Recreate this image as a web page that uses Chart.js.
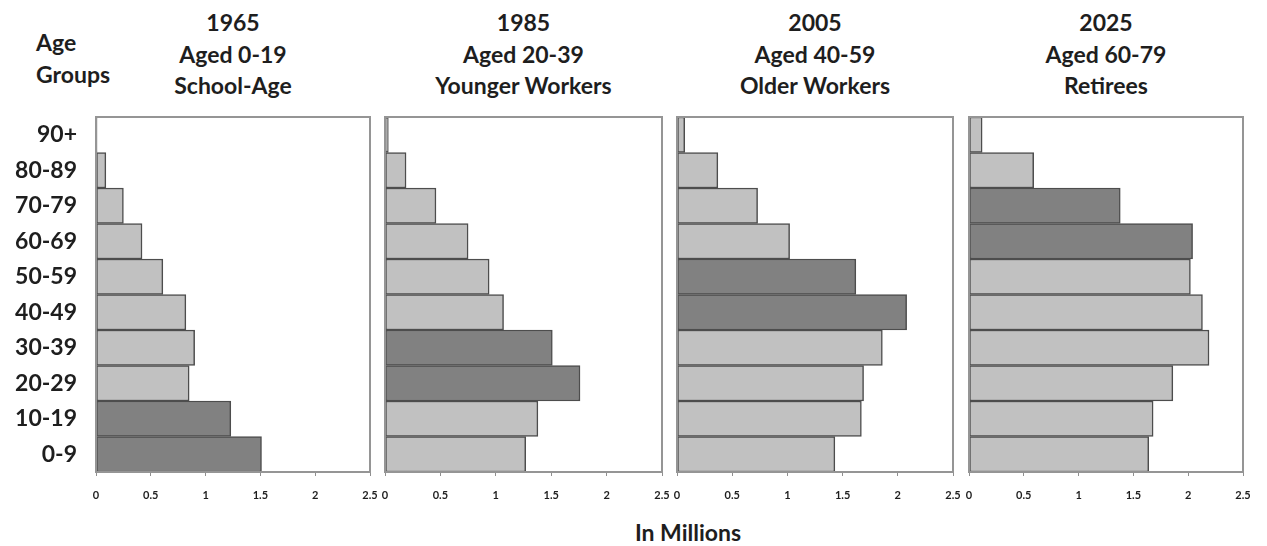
<!DOCTYPE html>
<html>
<head>
<meta charset="utf-8">
<script src="https://cdn.jsdelivr.net/npm/chart.js@4.4.1/dist/chart.umd.min.js"></script>
<style>
    body { margin: 0; background: #fff; width: 1267px; height: 546px; position: relative; overflow: hidden; font-family: Lato, sans-serif; color: #1e1e1e; }
    .panel { position: absolute; top: 100px; height: 412px; }
    .title { position: absolute; top: 7px; width: 290px; text-align: center; font-weight: bold; font-size: 23px; line-height: 31.5px; }
    .side { position: absolute; left: 36px; top: 27px; font-weight: bold; font-size: 23px; line-height: 31.5px; }
    .axis-title { position: absolute; left: 0; width: 1376px; top: 517px; text-align: center; font-weight: bold; font-size: 23px; line-height: 31.5px; }
</style>
</head>
<body>
<div class="side">Age<br>Groups</div>
<div id="titles"></div>
<div id="panels"></div>
<div class="axis-title">In Millions</div>

<script>
// ===== Данные =====
const ageGroups = ['0-9', '10-19', '20-29', '30-39', '40-49', '50-59', '60-69', '70-79', '80-89', '90+'];

const pop1965 = [1.51, 1.23, 0.85, 0.90, 0.82, 0.61, 0.42, 0.25, 0.09, 0.01];
const pop1985 = [1.27, 1.38, 1.76, 1.51, 1.07, 0.94, 0.75, 0.46, 0.19, 0.03];
const pop2005 = [1.43, 1.67, 1.69, 1.86, 2.08, 1.62, 1.02, 0.73, 0.37, 0.07];
const pop2025 = [1.64, 1.68, 1.86, 2.19, 2.13, 2.02, 2.04, 1.38, 0.59, 0.12];

const panelTitles = [
    ['1965', 'Aged 0-19', 'School-Age'],
    ['1985', 'Aged 20-39', 'Younger Workers'],
    ['2005', 'Aged 40-59', 'Older Workers'],
    ['2025', 'Aged 60-79', 'Retirees']
];

// возрастные группы когорты (тёмные столбцы)
const cohortGroups = [
    ['0-9', '10-19'],
    ['20-29', '30-39'],
    ['40-49', '50-59'],
    ['60-69', '70-79']
];

const xMin = 0, xMax = 2.5, xStep = 0.5;

// ===== Раскладка =====
const series = [pop1965, pop1985, pop2005, pop2025];
const plotLeft = [96, 385, 677, 969];
const plotRight = [370, 662, 953, 1243];

const frame = {
    id: 'frame',
    afterDatasetsDraw(chart) {
        const a = chart.chartArea;
        const ctx = chart.ctx;
        ctx.save();
        ctx.strokeStyle = '#959595';
        ctx.lineWidth = 2;
        ctx.strokeRect(a.left, a.top, a.right - a.left, a.bottom - a.top);
        ctx.restore();
    }
};

series.forEach((values, i) => {
    const first = i === 0;
    const yWidth = first ? 96 : 12;
    const left = plotLeft[i] - yWidth;
    const width = plotRight[i] - left + 10;

    const box = document.createElement('div');
    box.className = 'panel';
    box.style.left = left + 'px';
    box.style.width = width + 'px';
    const canvas = document.createElement('canvas');
    box.appendChild(canvas);
    document.getElementById('panels').appendChild(box);

    const t = document.createElement('div');
    t.className = 'title';
    t.style.left = ((plotLeft[i] + plotRight[i]) / 2 - 145) + 'px';
    t.innerHTML = panelTitles[i].join('<br>');
    document.getElementById('titles').appendChild(t);

    const colors = ageGroups.map(g => cohortGroups[i].includes(g) ? '#818181' : '#c1c1c1');

    new Chart(canvas, {
        type: 'bar',
        data: {
            labels: ageGroups,
            datasets: [{
                data: values,
                backgroundColor: colors,
                borderColor: '#4d4d4d',
                borderWidth: 1.5,
                borderSkipped: false,
                barPercentage: 1,
                categoryPercentage: 1
            }]
        },
        options: {
            indexAxis: 'y',
            responsive: true,
            maintainAspectRatio: false,
            animation: false,
            layout: { padding: { top: 17, right: 10, left: 0, bottom: 0 } },
            plugins: {
                legend: { display: false },
                tooltip: { enabled: false }
            },
            scales: {
                x: {
                    min: xMin,
                    max: xMax,
                    border: { display: false },
                    grid: { drawOnChartArea: false, tickLength: 4, color: '#8f8f8f' },
                    ticks: {
                        stepSize: xStep,
                        padding: 13,
                        color: '#1e1e1e',
                        font: { family: 'Lato', weight: 'bold', size: 11 },
                        callback: v => String(v)
                    },
                    afterFit(s) {
                        s.height = 40;
                        s.paddingLeft = 0;
                        s.paddingRight = 0;
                    }
                },
                y: {
                    reverse: true,
                    border: { display: false },
                    grid: { display: false, drawTicks: false },
                    ticks: {
                        display: first,
                        padding: 19,
                        color: '#1e1e1e',
                        font: { family: 'Lato', weight: 'bold', size: 23 }
                    },
                    afterFit(s) {
                        s.width = yWidth;
                        s.paddingTop = 0;
                        s.paddingBottom = 0;
                    }
                }
            }
        },
        plugins: [frame]
    });
});
</script>
</body>
</html>
